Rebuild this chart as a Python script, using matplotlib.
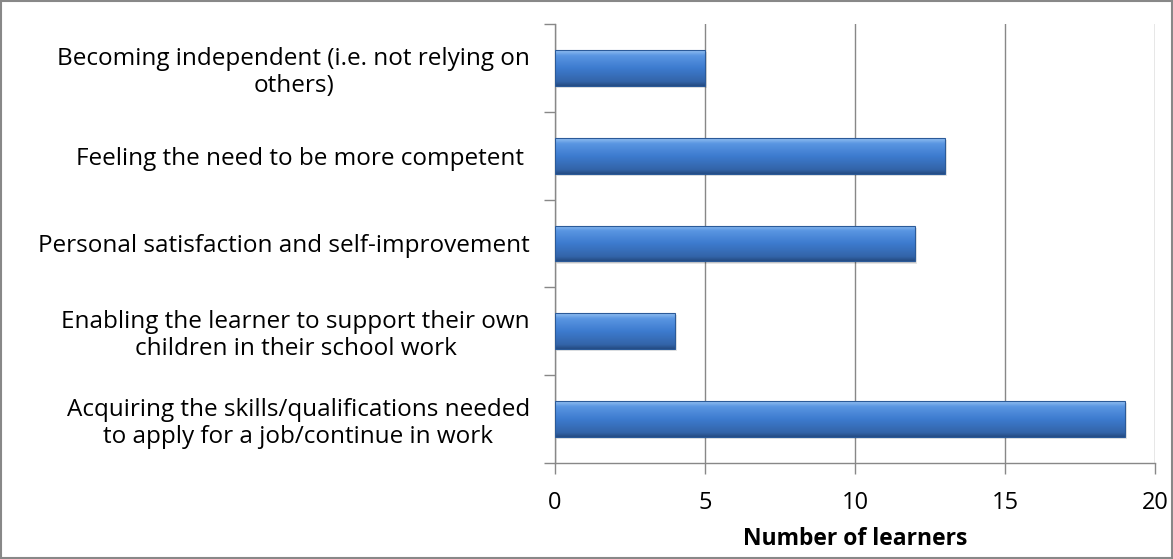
import matplotlib
matplotlib.use("Agg")
import matplotlib.pyplot as plt
import numpy as np
from matplotlib.colors import LinearSegmentedColormap
from matplotlib.patches import Rectangle

categories = [
    "Becoming independent (i.e. not relying on\nothers)",
    "Feeling the need to be more competent ",
    "Personal satisfaction and self-improvement",
    "Enabling the learner to support their own\nchildren in their school work",
    "Acquiring the skills/qualifications needed\nto apply for a job/continue in work",
]
values = [5, 13, 12, 4, 19]
x_ticks = [0, 5, 10, 15, 20]
x_label = "Number of learners"

plt.rcParams['font.family'] = ['Open Sans', 'DejaVu Sans']

fig = plt.figure(figsize=(11.73, 5.59), dpi=100)
ax = fig.add_axes([555/1173, 1-463/559, 600/1173, 439/559])

pos = np.arange(len(categories))
bars = ax.barh(pos, values, height=0.41, color='#3f77c0', zorder=3)

cmap = LinearSegmentedColormap.from_list(
    'bev', [(0.0, '#244a80'), (0.12, '#3364a8'), (0.5, '#3d7bcf'),
            (0.85, '#5a96e2'), (1.0, '#94c0f2')])
grad = np.linspace(0, 1, 256).reshape(-1, 1)
for b in bars:
    x0, y0 = b.get_x(), b.get_y()
    w, h = b.get_width(), b.get_height()
    ax.add_patch(Rectangle((x0 + 0.05, y0 + h * 0.06), w, h, facecolor='#000000',
                           alpha=0.10, lw=0, zorder=2))
    ax.add_patch(Rectangle((x0 + 0.02, y0 + h * 0.03), w, h, facecolor='#000000',
                           alpha=0.12, lw=0, zorder=2))
    im = ax.imshow(grad, cmap=cmap, aspect='auto', extent=(x0, x0 + w, y0 + h, y0),
                   origin='lower', zorder=4, interpolation='bicubic')
    im.set_clip_path(b)
    ax.add_patch(Rectangle((x0, y0), w, h, facecolor='none', edgecolor='#2b5a98',
                           lw=0.8, zorder=5))

ax.set_xlim(0, 20)
ax.set_ylim(len(categories) - 0.5, -0.5)

ax.set_xticks(x_ticks)
ax.set_xticklabels([str(t) for t in x_ticks], fontsize=17)
ax.tick_params(axis='x', length=8, width=1, color='#888888', pad=12)
ax.xaxis.grid(True, color='#888888', lw=1, zorder=1)
ax.set_axisbelow(True)

ax.set_yticks(np.arange(len(categories) + 1) - 0.5)
ax.set_yticklabels([])
ax.set_yticks(pos, minor=True)
ax.set_yticklabels(categories, minor=True, fontsize=17.5, multialignment='center',
                   linespacing=1.15)
ax.tick_params(axis='y', which='major', length=8, width=1, color='#888888')
ax.tick_params(axis='y', which='minor', length=0, pad=18)

for s in ['top', 'right']:
    ax.spines[s].set_visible(False)
for s in ['left', 'bottom']:
    ax.spines[s].set_color('#888888')
    ax.spines[s].set_linewidth(1)

ax.set_xlabel(x_label, fontsize=16.5, fontweight='bold', labelpad=9)

fig.patches.append(Rectangle((0.001, 0.001), 0.998, 0.997, transform=fig.transFigure,
                             facecolor='none', edgecolor='#888888', lw=1.5))

fig.savefig('out.png', dpi=100)
